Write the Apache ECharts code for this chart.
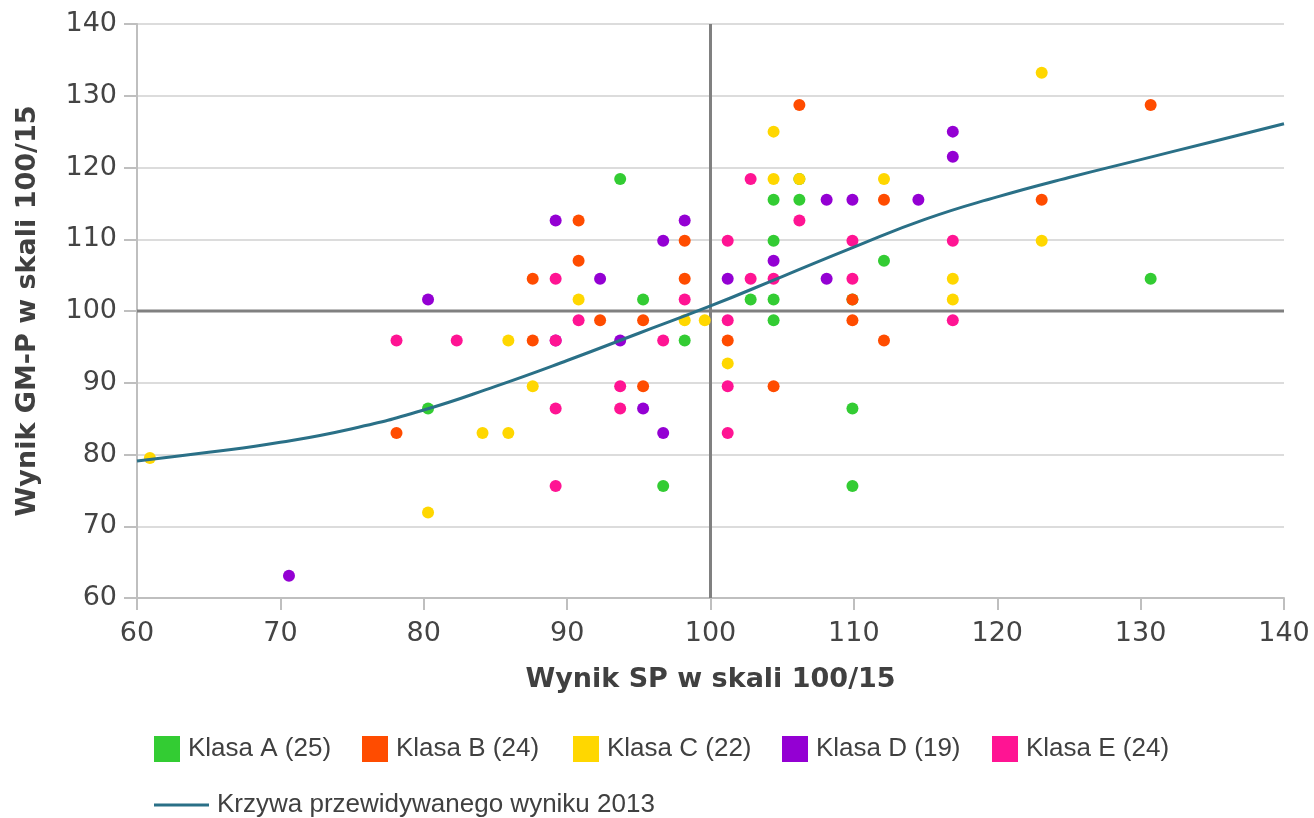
<!DOCTYPE html>
<html>
<head>
<meta charset="utf-8">
<script src="https://cdn.jsdelivr.net/npm/echarts@6/dist/echarts.min.js"></script>
<style>html,body{margin:0;padding:0;background:#fff}#c{width:1314px;height:818px}</style>
</head>
<body>
<div id="c"></div>
<script>
// ---- data ----
const seriesNames = ['Klasa A (25)', 'Klasa B (24)', 'Klasa C (22)', 'Klasa D (19)', 'Klasa E (24)'];
const curveName = 'Krzywa przewidywanego wyniku 2013';

const klasaA = [[80.3,86.4],[93.7,118.4],[95.3,101.6],[98.2,95.9],[96.7,75.6],[102.8,101.6],[104.4,115.5],[104.4,109.8],[104.4,101.6],[104.4,98.7],[106.2,115.5],[112.1,107],[109.9,86.4],[109.9,75.6],[130.7,104.5],[106.2,118.4],[109.9,101.6]];
const klasaB = [[78.1,83],[87.6,104.5],[87.6,95.9],[90.8,112.6],[90.8,107],[92.3,98.7],[95.3,98.7],[95.3,89.5],[98.2,109.8],[98.2,104.5],[101.2,95.9],[104.4,89.5],[106.2,128.7],[109.9,101.6],[109.9,98.7],[112.1,115.5],[112.1,95.9],[123.1,115.5],[130.7,128.7]];
const klasaC = [[60.9,79.5],[80.3,71.9],[84.1,83],[85.9,83],[85.9,95.9],[87.6,89.5],[90.8,101.6],[98.2,98.7],[99.6,98.7],[101.2,92.7],[104.4,125],[104.4,118.4],[106.2,118.4],[112.1,118.4],[116.9,104.5],[116.9,101.6],[123.1,133.2],[123.1,109.8]];
const klasaD = [[70.6,63.1],[80.3,101.6],[89.2,112.6],[92.3,104.5],[93.7,95.9],[95.3,86.4],[96.7,109.8],[96.7,83],[98.2,112.6],[101.2,104.5],[104.4,107],[108.1,115.5],[108.1,104.5],[109.9,115.5],[114.5,115.5],[116.9,125],[116.9,121.5],[89.2,95.9]];
const klasaE = [[78.1,95.9],[82.3,95.9],[89.2,95.9],[89.2,104.5],[89.2,86.4],[89.2,75.6],[90.8,98.7],[93.7,89.5],[93.7,86.4],[96.7,95.9],[98.2,101.6],[101.2,109.8],[101.2,98.7],[101.2,89.5],[101.2,83],[102.8,118.4],[102.8,104.5],[104.4,104.5],[106.2,112.6],[109.9,109.8],[109.9,104.5],[116.9,109.8],[116.9,98.7]];

const curveX = [60,65,70,75,80,85,90,95,100,105,110,115,120,125,130,135,140];
const curveY = [79.1,80.3,81.7,83.6,86.2,89.5,93.1,96.9,100.7,104.8,108.9,112.8,115.9,118.6,121.1,123.6,126.1];

const xTicks = [60,70,80,90,100,110,120,130,140];
const yTicks = [60,70,80,90,100,110,120,130,140];
const refX = 100, refY = 100;

// ---- chart ----
const colors = ['#33cc33', '#ff4c00', '#ffd700', '#9400d3', '#ff1493'];
const classData = [klasaA, klasaB, klasaC, klasaD, klasaE];
const legendLeft = [149, 357, 568, 777, 987];
const curveColor = '#2a7087';

const chart = echarts.init(document.getElementById('c'), null, {renderer: 'canvas'});

const series = [];
series.push({
  type: 'line', silent: true, symbol: 'none', z: 1,
  data: [[refX, yTicks[0]], [refX, yTicks[yTicks.length - 1]]],
  lineStyle: {color: '#808080', width: 3}
});
series.push({
  type: 'line', silent: true, symbol: 'none', z: 1,
  data: [[xTicks[0], refY], [xTicks[xTicks.length - 1], refY]],
  lineStyle: {color: '#808080', width: 3}
});
classData.forEach((d, i) => {
  series.push({
    name: seriesNames[i], type: 'scatter', data: d, symbolSize: 12, z: 2,
    itemStyle: {color: colors[i], opacity: 1}
  });
});
series.push({
  name: curveName, type: 'line', smooth: true, symbol: 'none', showSymbol: false, z: 3,
  data: curveX.map((x, i) => [x, curveY[i]]),
  lineStyle: {color: curveColor, width: 3},
  itemStyle: {color: curveColor}
});

const legends = seriesNames.map((n, i) => ({
  data: [n], left: legendLeft[i], top: 731, orient: 'horizontal',
  icon: 'rect', itemWidth: 26, itemHeight: 26, selectedMode: false,
  textStyle: {fontFamily: 'Liberation Sans', fontSize: 26, color: '#404040', padding: [0, 0, 0, 3]}
}));
legends.push({
  data: [{name: curveName, icon: 'rect'}], left: 149, top: 787, selectedMode: false,
  itemWidth: 55, itemHeight: 3,
  itemStyle: {color: curveColor},
  textStyle: {fontFamily: 'Liberation Sans', fontSize: 26, color: '#404040', padding: [0, 0, 0, 3]}
});

chart.setOption({
  animation: false,
  backgroundColor: '#ffffff',
  legend: legends,
  grid: {left: 137, right: 30, top: 24, bottom: 220, containLabel: false},
  xAxis: {
    type: 'value', min: xTicks[0], max: xTicks[xTicks.length - 1], interval: 10,
    name: 'Wynik SP w skali 100/15', nameLocation: 'middle', nameGap: 68,
    nameTextStyle: {fontFamily: 'DejaVu Sans', fontWeight: 'bold', fontSize: 27, color: '#404040'},
    axisLine: {show: true, lineStyle: {color: '#bfbfbf', width: 2}},
    axisTick: {show: true, length: 12, lineStyle: {color: '#bfbfbf', width: 2}},
    axisLabel: {fontFamily: 'DejaVu Sans', fontSize: 27, color: '#444444', margin: 22},
    splitLine: {show: false}
  },
  yAxis: {
    type: 'value', min: yTicks[0], max: yTicks[yTicks.length - 1], interval: 10,
    name: 'Wynik GM-P w skali 100/15', nameLocation: 'middle', nameGap: 96,
    nameTextStyle: {fontFamily: 'DejaVu Sans', fontWeight: 'bold', fontSize: 27, color: '#404040'},
    axisLine: {show: true, lineStyle: {color: '#bfbfbf', width: 2}},
    axisTick: {show: true, length: 13, lineStyle: {color: '#bfbfbf', width: 2}},
    axisLabel: {fontFamily: 'DejaVu Sans', fontSize: 27, color: '#444444', margin: 20},
    splitLine: {show: true, lineStyle: {color: '#dcdcdc', width: 2}}
  },
  series: series
});
</script>
</body>
</html>
